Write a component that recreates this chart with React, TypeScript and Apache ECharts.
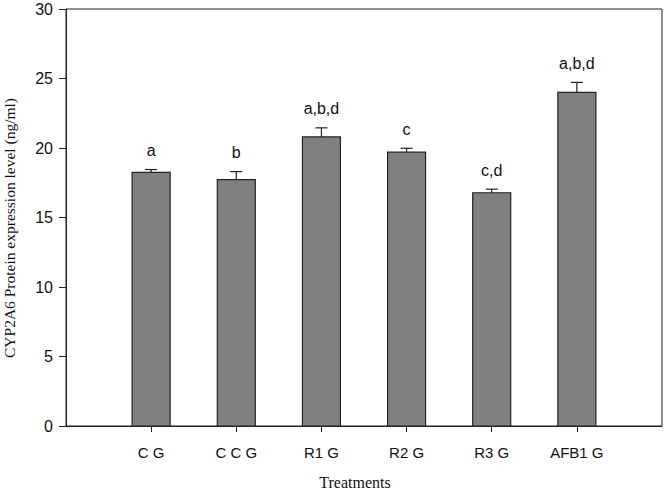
import React, { useEffect, useRef } from "react";
import * as echarts from "echarts";

const categories = ["C G", "C C G", "R1 G", "R2 G", "R3 G", "AFB1 G"];
const means = [18.25, 17.73, 20.8, 19.7, 16.78, 24.0];
const errors = [0.2, 0.57, 0.65, 0.28, 0.26, 0.72];
const letters = ["a", "b", "a,b,d", "c", "c,d", "a,b,d"];
const yTicks = [0, 5, 10, 15, 20, 25, 30];
const xTitle = "Treatments";
const yTitle = "CYP2A6 Protein expression level (ng/ml)";

export default function App() {
  const ref = useRef<HTMLDivElement>(null);
  useEffect(() => {
    if (!ref.current) return;
    const chart = echarts.init(ref.current, null, { renderer: "svg" });
    const positions = categories.map((_, i) => i + 1);
    const data = categories.map((_, i) => [positions[i], means[i], errors[i], i]);
    const sans = "Liberation Sans, Arial, sans-serif";
    const serif = "Liberation Serif, Times New Roman, serif";
    chart.setOption({
      animation: false,
      backgroundColor: "#fff",
      grid: {
        left: 66,
        right: 4,
        top: 9,
        bottom: 64,
        show: true,
        borderColor: "#222",
        borderWidth: 1,
        backgroundColor: "#fff",
      },
      xAxis: {
        type: "value",
        min: 0,
        max: categories.length + 1,
        interval: 1,
        splitLine: { show: false },
        axisLine: { show: true, lineStyle: { color: "#222", width: 1 } },
        axisTick: {
          show: true,
          inside: false,
          length: 6,
          customValues: positions,
          lineStyle: { color: "#222" },
        },
        axisLabel: {
          customValues: positions,
          margin: 19,
          fontFamily: sans,
          fontSize: 15,
          color: "#111",
          formatter: (v: number) => categories[Math.round(v) - 1] ?? "",
        },
      },
      yAxis: {
        type: "value",
        min: 0,
        max: 30,
        interval: 5,
        splitLine: { show: false },
        axisLine: { show: true, lineStyle: { color: "#222", width: 1 } },
        axisTick: { show: true, inside: false, length: 7, lineStyle: { color: "#222" } },
        axisLabel: {
          margin: 13,
          fontFamily: sans,
          fontSize: 16,
          color: "#111",
          formatter: (v: number) => (yTicks.includes(v) ? String(v) : ""),
        },
      },
      graphic: [
        {
          type: "text",
          x: 9,
          y: 228,
          rotation: Math.PI / 2,
          style: {
            text: yTitle,
            fontFamily: serif,
            fontSize: 15.5,
            fill: "#111",
            align: "center",
            verticalAlign: "middle",
          },
        },
        {
          type: "text",
          x: 355,
          y: 482,
          style: {
            text: xTitle,
            fontFamily: serif,
            fontSize: 16,
            fill: "#111",
            align: "center",
            verticalAlign: "middle",
          },
        },
      ],
      series: [
        {
          type: "custom",
          data,
          clip: false,
          renderItem: (params: any, api: any) => {
            const x = api.value(0);
            const m = api.value(1);
            const e = api.value(2);
            const idx = api.value(3);
            const base = api.coord([x, 0]);
            const top = api.coord([x, m]);
            const cap = api.coord([x, m + e]);
            const bw = 38;
            const cw = 12;
            return {
              type: "group",
              children: [
                {
                  type: "rect",
                  shape: { x: base[0] - bw / 2, y: top[1], width: bw, height: base[1] - top[1] },
                  style: { fill: "#808080", stroke: "#222", lineWidth: 1.2 },
                },
                {
                  type: "line",
                  shape: { x1: top[0], y1: top[1], x2: cap[0], y2: cap[1] },
                  style: { stroke: "#222", lineWidth: 1.2 },
                },
                {
                  type: "line",
                  shape: { x1: cap[0] - cw / 2, y1: cap[1], x2: cap[0] + cw / 2, y2: cap[1] },
                  style: { stroke: "#222", lineWidth: 1.2 },
                },
                {
                  type: "text",
                  x: cap[0],
                  y: cap[1] - 19,
                  style: {
                    text: letters[idx],
                    fontFamily: sans,
                    fontSize: 16,
                    fill: "#111",
                    align: "center",
                    verticalAlign: "middle",
                  },
                },
              ],
            };
          },
        },
      ],
    });
    return () => chart.dispose();
  }, []);
  return (
    <div
      ref={ref}
      style={{ position: "fixed", left: 0, top: 0, width: 666, height: 490 }}
    />
  );
}
